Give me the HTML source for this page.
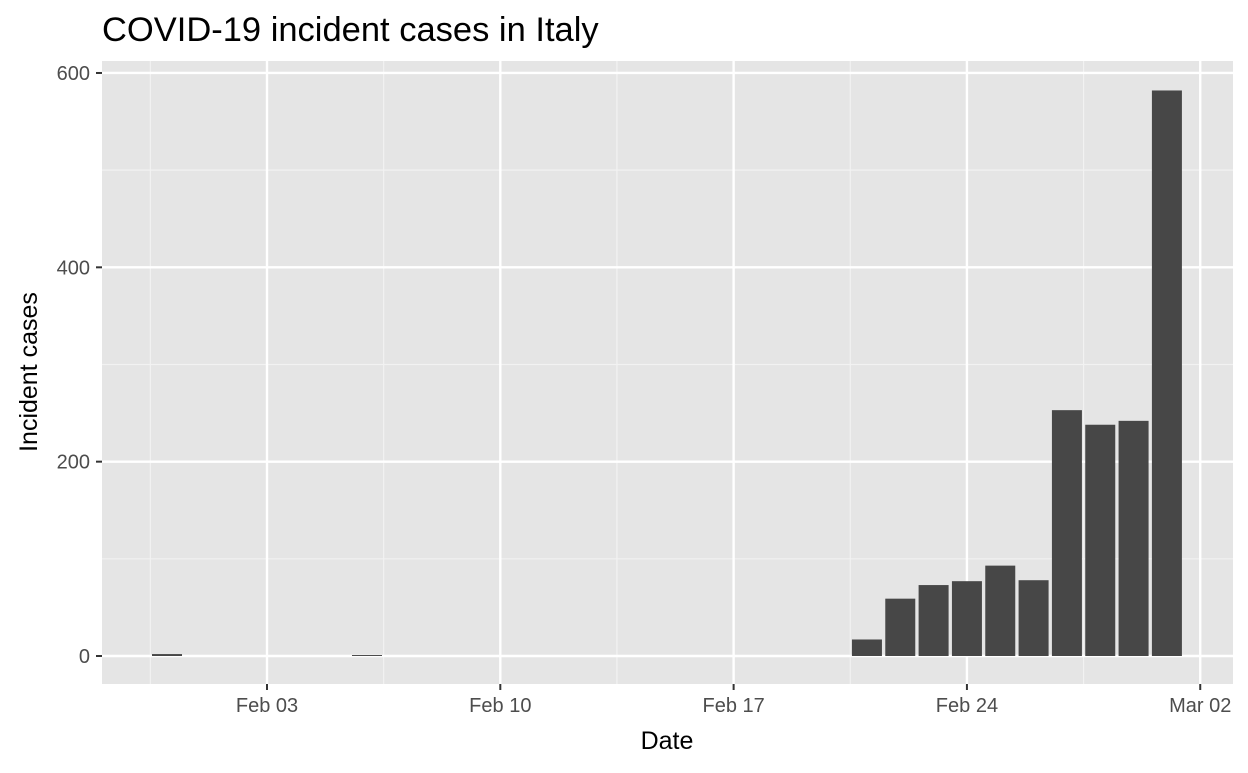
<!DOCTYPE html>
<html><head><meta charset="utf-8"><style>
body{margin:0;background:#fff;font-family:"Liberation Sans",Arial,sans-serif}
</style></head><body>
<svg width="1248" height="768" xmlns="http://www.w3.org/2000/svg">
<text x="102" y="41" font-size="34.5" fill="#000">COVID-19 incident cases in Italy</text>
<rect x="102" y="61" width="1131" height="623" fill="#e5e5e5"/>
<g id="grid"></g><g id="bars"></g><g id="axes"></g>
<text x="667" y="749" font-size="25" text-anchor="middle" fill="#000">Date</text>
<text transform="translate(37,372) rotate(-90)" font-size="25" text-anchor="middle" fill="#000">Incident cases</text>
</svg>
<script>
const dates=["2020-01-31","2020-02-06","2020-02-21","2020-02-22","2020-02-23","2020-02-24","2020-02-25","2020-02-26","2020-02-27","2020-02-28","2020-02-29","2020-03-01"];
const cases=[2,1,17,59,73,77,93,78,253,238,242,582];
const xTickDates=["2020-02-03","2020-02-10","2020-02-17","2020-02-24","2020-03-02"];
const xTickLabels=["Feb 03","Feb 10","Feb 17","Feb 24","Mar 02"];
const yTicks=[0,200,400,600];
const NS="http://www.w3.org/2000/svg";
const day=s=>Date.UTC(+s.slice(0,4),+s.slice(5,7)-1,+s.slice(8,10))/864e5;
const d0=day("2020-02-03");
const x=s=>267+(day(s)-d0)*33.33;
const xd=d=>267+(d-d0)*33.33;
const y=v=>656-v*0.9717;
function mk(p,t,a){const e=document.createElementNS(NS,t);for(const k in a)e.setAttribute(k,a[k]);p.appendChild(e);return e;}
const g=document.getElementById('grid'),b=document.getElementById('bars'),ax=document.getElementById('axes');
for(let i=-1;i<xTickDates.length;i++){const xm=xd(day(xTickDates[0])+i*7+3.5);if(xm>102&&xm<1233){const l=mk(g,'line',{x1:xm,x2:xm,y1:61,y2:684,stroke:'#f2f2f2','stroke-width':1.2});

}}
for(let i=0;i<yTicks.length-1;i++){const ym=y((yTicks[i]+yTicks[i+1])/2);const l=mk(g,'line',{x1:102,x2:1233,y1:ym,y2:ym,stroke:'#f2f2f2','stroke-width':1.2});

}
xTickDates.forEach((s,i)=>{const xx=x(s);const l=mk(g,'line',{x1:xx,x2:xx,y1:61,y2:684,stroke:'#fff','stroke-width':2.4});


const t=mk(ax,'line',{x1:xx,x2:xx,y1:684,y2:690,stroke:'#333','stroke-width':2});


const tx=mk(ax,'text',{x:xx,y:712,'font-size':20,'text-anchor':'middle',fill:'#4d4d4d'});tx.textContent=xTickLabels[i];

});
yTicks.forEach(v=>{const yy=y(v);const l=mk(g,'line',{x1:102,x2:1233,y1:yy,y2:yy,stroke:'#fff','stroke-width':2.4});


const t=mk(ax,'line',{x1:96,x2:102,y1:yy,y2:yy,stroke:'#333','stroke-width':2});


const tx=mk(ax,'text',{x:90,y:yy+7,'font-size':20,'text-anchor':'end',fill:'#4d4d4d'});tx.textContent=v;

});
dates.forEach((s,i)=>{const cx=x(s);const r=mk(b,'rect',{x:cx-15,width:30,y:y(cases[i]),height:Math.max(0.5,y(0)-y(cases[i])),fill:'#474747'});

});
</script>
</body></html>
